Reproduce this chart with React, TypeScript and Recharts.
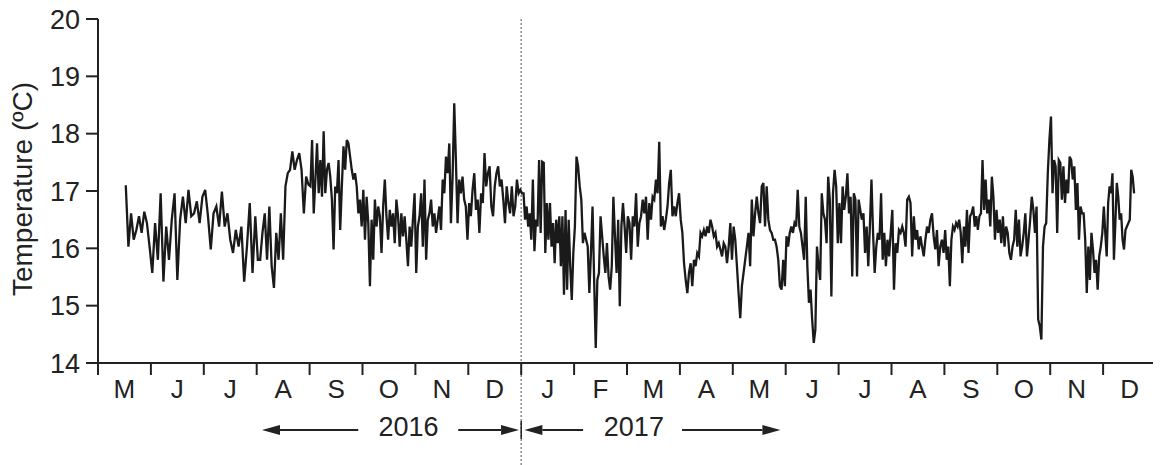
import { LineChart, Line, XAxis, YAxis, ReferenceLine } from 'recharts'

// month initials, May 2016 .. Dec 2017
const MONTH_LABELS = ['M', 'J', 'J', 'A', 'S', 'O', 'N', 'D', 'J', 'F', 'M', 'A', 'M', 'J', 'J', 'A', 'S', 'O', 'N', 'D']
const YEARS = ['2016', '2017']
const Y_TICKS = [14, 15, 16, 17, 18, 19, 20]
const YEAR_BREAK = 8 // Jan 2017, in months since May 2016

// record starts mid-May 2016 and stops around 19 Dec 2017
const FIRST_MONTH_START = 0.5
const LAST_MONTH_END = 0.6

// daily temperature (ºC)
const may16 = [17.1, 16.03, 16.61, 16.15, 16.32, 16.56, 16.27, 16.64, 16.44, 16.03]
const jun16 = [15.57, 16.44, 15.8, 16.96, 15.42, 16.38, 15.8, 16.5, 16.96, 15.45, 16.5, 16.9, 16.44, 17.02, 16.56, 16.61, 16.82, 16.44, 16.9]
const jul16 = [17.02, 16.56, 15.98, 16.61, 16.73, 16.38, 16.99, 16.38, 16.61, 16.15, 15.92, 16.32, 16.03, 16.38, 15.42, 16.03, 16.79, 15.57, 16.56]
const aug16 = [15.8, 15.8, 16.27, 16.61, 15.8, 16.73, 15.69, 15.31, 16.27, 15.8, 16.61, 15.8, 17.08, 17.31, 17.37, 17.69, 17.37, 17.54, 17.66, 17.37, 16.61, 17.25, 17.11]
const sep16 = [17.08, 17.89, 16.61, 17.2, 17.83, 16.96, 17.54, 16.9, 18.04, 16.96, 17.37, 17.49, 17.25, 16.85, 15.98, 17.08, 16.96, 17.54, 16.32, 17.08, 17.78, 17.37, 17.89, 17.83, 17.6, 17.37, 17.2, 17.31, 17.08, 16.61, 16.85, 16.38]
const oct16 = [17.02, 16.15, 16.9, 16.44, 15.34, 16.5, 15.8, 16.85, 16.38, 16.73, 16.56, 15.92, 16.73, 17.2, 16.56, 16.15, 16.67, 16.38, 16.61, 16.09, 16.85, 16.56, 16.03, 16.61, 16.21, 16.56, 16.15, 15.69, 16.38, 16.03, 16.5, 16.96]
const nov16 = [15.57, 16.38, 16.56, 16.96, 16.03, 17.2, 15.8, 16.5, 16.61, 16.85, 16.38, 16.61, 16.27, 16.5, 16.73, 16.32, 17.2, 16.96, 17.6, 17.31, 17.83, 16.44, 17.25, 18.53, 17.54, 16.44, 17.2, 16.96, 17.25, 16.85, 16.73, 16.15]
const dec16 = [16.79, 16.56, 17.02, 17.31, 16.67, 16.85, 16.27, 16.96, 16.79, 17.66, 17.08, 17.31, 17.43, 16.73, 16.56, 17.08, 17.31, 17.43, 17.08, 17.2, 16.85, 16.44, 17.08, 16.79, 16.61, 17.08, 16.56, 16.73, 17.2, 16.96, 17.02]
const jan17 = [16.96, 16.96, 16.5, 16.73, 16.38, 16.61, 16.15, 17.2, 15.95, 16.5, 16.38, 17.54, 16.27, 17.51, 17.49, 15.92, 16.79, 16.15, 16.79, 16.03, 16.44, 15.74, 16.5, 16.09, 16.56, 15.69, 16.56, 15.19, 16.67, 15.28, 16.5, 15.69, 15.1, 15.92]
const feb17 = [16.38, 17.6, 17.43, 17.08, 16.85, 16.09, 16.27, 16.15, 16.03, 15.22, 15.92, 16.73, 15.45, 14.26, 15.45, 15.57, 16.56, 16.21, 15.86, 15.57, 16.09, 15.51, 15.28, 15.69, 16.9, 16.21, 15.57, 16.5, 14.99, 16.38, 16.79, 16.38, 15.92]
const mar17 = [16.56, 16.44, 15.8, 16.56, 16.38, 16.96, 16.03, 16.44, 16.56, 16.85, 16.61, 16.9, 16.15, 16.79, 16.5, 16.9, 16.85, 17.2, 16.96, 17.86, 16.38, 16.56, 16.32, 16.5, 16.73, 17.14, 17.37, 16.56, 16.73, 16.56, 16.79, 16.96]
const apr17 = [16.5, 16.27, 15.74, 15.45, 15.22, 15.57, 15.74, 15.34, 15.8, 15.69, 15.92, 15.86, 16.27, 16.21, 16.32, 16.21, 16.38, 16.27, 16.5, 16.38, 16.21, 16.27, 16.03, 16.09, 15.98, 15.86, 16.09, 16.03, 15.74, 16.03, 16.44, 15.8]
const may17 = [16.38, 16.15, 15.69, 15.22, 14.78, 15.34, 15.57, 15.8, 16.03, 16.27, 15.69, 16.85, 16.21, 16.61, 16.9, 16.61, 16.44, 17.08, 17.14, 16.38, 17.08, 16.5, 16.32, 16.27, 16.15, 16.15, 16.03, 15.8, 15.34, 15.28, 15.8, 15.34]
const jun17 = [16.21, 16.03, 16.27, 16.38, 16.27, 16.44, 16.38, 17.02, 16.38, 16.27, 16.03, 15.8, 16.9, 15.69, 15.05, 15.28, 14.76, 14.35, 14.58, 16.03, 15.69, 15.45, 16.96, 16.61, 16.5, 16.09, 17.25, 16.85, 15.16, 16.96, 17.37, 17.08, 16.09]
const jul17 = [16.79, 16.09, 17.08, 16.67, 16.9, 17.31, 16.61, 16.9, 15.51, 16.96, 16.85, 15.51, 16.85, 16.67, 16.5, 16.61, 15.92, 16.38, 15.69, 16.38, 17.2, 16.27, 15.57, 16.03, 16.27, 16.15, 16.96, 15.8, 16.27, 15.69, 16.15, 15.86, 16.27]
const aug17 = [16.67, 15.28, 16.09, 15.92, 16.32, 16.27, 16.38, 16.27, 16.03, 16.85, 16.9, 16.79, 15.86, 16.56, 16.15, 16.32, 15.98, 16.21, 16.03, 15.86, 16.15, 16.38, 16.27, 16.5, 16.61, 16.21, 15.98, 16.32, 15.69, 16.03, 16.15, 15.92]
const sep17 = [16.32, 15.8, 16.03, 15.34, 16.15, 16.38, 16.32, 16.44, 16.38, 16.5, 16.27, 15.74, 16.38, 16.03, 16.67, 15.92, 16.56, 16.61, 16.73, 16.38, 16.56, 16.32, 16.56, 16.61, 17.54, 16.67, 17.2, 16.61, 16.85, 16.38, 17.25, 16.9, 16.15, 16.67]
const oct17 = [16.27, 16.5, 16.09, 16.56, 16.03, 16.38, 16.27, 15.92, 15.8, 16.03, 16.15, 16.67, 16.03, 16.5, 15.86, 16.03, 16.27, 16.61, 15.86, 16.15, 16.5, 16.9, 16.67, 16.27, 16.73, 14.76, 14.64, 14.41, 16.03, 16.38, 16.44, 17.31, 17.89]
const nov17 = [18.3, 16.96, 17.54, 17.43, 16.27, 17.54, 17.49, 16.85, 17.43, 16.79, 17.2, 16.96, 17.6, 17.54, 17.2, 17.43, 16.67, 17.14, 16.15, 16.73, 16.61, 16.61, 16.15, 15.22, 16.03, 15.45, 16.27, 15.98, 15.57, 15.8, 15.28, 15.86, 16.03, 16.27]
const dec17 = [16.73, 16.27, 15.86, 16.79, 17.08, 16.96, 17.31, 15.8, 16.44, 17.14, 16.9, 16.5, 16.61, 16.15, 15.98, 16.32, 16.38, 16.44, 16.5, 17.37, 17.25, 16.96]

const MONTHS = [may16, jun16, jul16, aug16, sep16, oct16, nov16, dec16, jan17, feb17, mar17, apr17, may17, jun17, jul17, aug17, sep17, oct17, nov17, dec17]

// each month's readings spread evenly across that month
const data = MONTHS.flatMap((vals, m) => {
  const a = m === 0 ? FIRST_MONTH_START : 0
  const b = m === MONTHS.length - 1 ? LAST_MONTH_END : 1
  return vals.map((temp, i) => ({ t: m + a + ((b - a) * (i + 0.5)) / vals.length, temp }))
})

// the svg sits flush with the top of the page so the "20" label has room
const W = 1153
const H = 465
const MARGIN = { top: 19, right: 5, bottom: 62, left: 0 }
const Y_AXIS_W = 90
const X_AXIS_H = 40
const MONTH_PX = (W - MARGIN.left - MARGIN.right - Y_AXIS_W) / MONTH_LABELS.length

const INK = '#222'
const FONT = '"Liberation Sans", Arial, sans-serif'

// month letters sit between the tick marks
function MonthTick({ x, y, payload }: any) {
  const label = MONTH_LABELS[payload.value]
  if (!label) return <g />
  return (
    <text x={x + MONTH_PX / 2} y={y} dy="0.71em" textAnchor="middle" fontSize={26} fill={INK}>
      {label}
    </text>
  )
}

function Arrow({ from, to, y }: { from: number; to: number; y: number }) {
  const dir = Math.sign(to - from)
  const head = 18
  return (
    <g>
      <line x1={from} y1={y} x2={to - dir * head} y2={y} stroke={INK} strokeWidth={2} />
      <polygon points={`${to},${y} ${to - dir * head},${y - 5} ${to - dir * head},${y + 5}`} fill={INK} />
    </g>
  )
}

// dotted year break plus the 2016 / 2017 arrows under the axis
function YearBreak(props: any) {
  const { x1, y1, y2 } = props
  const top = Math.min(y1, y2)
  const bottom = Math.max(y1, y2)
  const ay = bottom + 67
  const m = MONTH_PX
  return (
    <g>
      <line x1={x1} y1={top} x2={x1} y2={H} stroke="#8a8a8a" strokeWidth={1.5} strokeDasharray="2 2" />
      <line x1={x1} y1={ay - 9} x2={x1} y2={ay + 9} stroke={INK} strokeWidth={1.5} />
      <Arrow from={x1 - 3.08 * m} to={x1 - 4.9 * m} y={ay} />
      <Arrow from={x1 - 1.19 * m} to={x1 - 0.04 * m} y={ay} />
      <Arrow from={x1 + 1.17 * m} to={x1 + 0.06 * m} y={ay} />
      <Arrow from={x1 + 3.04 * m} to={x1 + 4.9 * m} y={ay} />
      <text x={x1 - 2.13 * m} y={ay - 3} dy="0.35em" textAnchor="middle" fontSize={27} fill={INK}>{YEARS[0]}</text>
      <text x={x1 + 2.13 * m} y={ay - 3} dy="0.35em" textAnchor="middle" fontSize={27} fill={INK}>{YEARS[1]}</text>
    </g>
  )
}

export default function App() {
  return (
    <div style={{ fontFamily: FONT, marginTop: -8 }}>
      <LineChart width={W} height={H} data={data} margin={MARGIN}>
        <XAxis
          dataKey="t"
          type="number"
          domain={[0, MONTH_LABELS.length]}
          ticks={MONTH_LABELS.map((_, i) => i).concat(MONTH_LABELS.length)}
          interval={0}
          height={X_AXIS_H}
          tickSize={12}
          tickMargin={5}
          axisLine={{ stroke: INK, strokeWidth: 2 }}
          tickLine={{ stroke: INK, strokeWidth: 2 }}
          tick={<MonthTick />}
        />
        <YAxis
          type="number"
          domain={[14, 20]}
          ticks={Y_TICKS}
          interval={0}
          width={Y_AXIS_W}
          tickSize={12}
          tickMargin={6}
          axisLine={{ stroke: INK, strokeWidth: 2 }}
          tickLine={{ stroke: INK, strokeWidth: 2 }}
          tick={{ fontSize: 27, fill: INK }}
          label={{
            content: (p: any) => {
              const vb = p.viewBox || { x: 0, y: MARGIN.top, height: 344 }
              const cx = vb.x + 14
              const cy = vb.y + vb.height / 2 - 2
              return (
                <text
                  x={cx}
                  y={cy}
                  transform={`rotate(-90 ${cx} ${cy})`}
                  textAnchor="middle"
                  dy="0.35em"
                  fontSize={28}
                  fill={INK}
                >
                  Temperature (ºC)
                </text>
              )
            },
          }}
        />
        <ReferenceLine x={YEAR_BREAK} shape={<YearBreak />} />
        <Line
          type="linear"
          dataKey="temp"
          stroke="#1a1a1a"
          strokeWidth={2.3}
          dot={false}
          isAnimationActive={false}
        />
      </LineChart>
    </div>
  )
}
